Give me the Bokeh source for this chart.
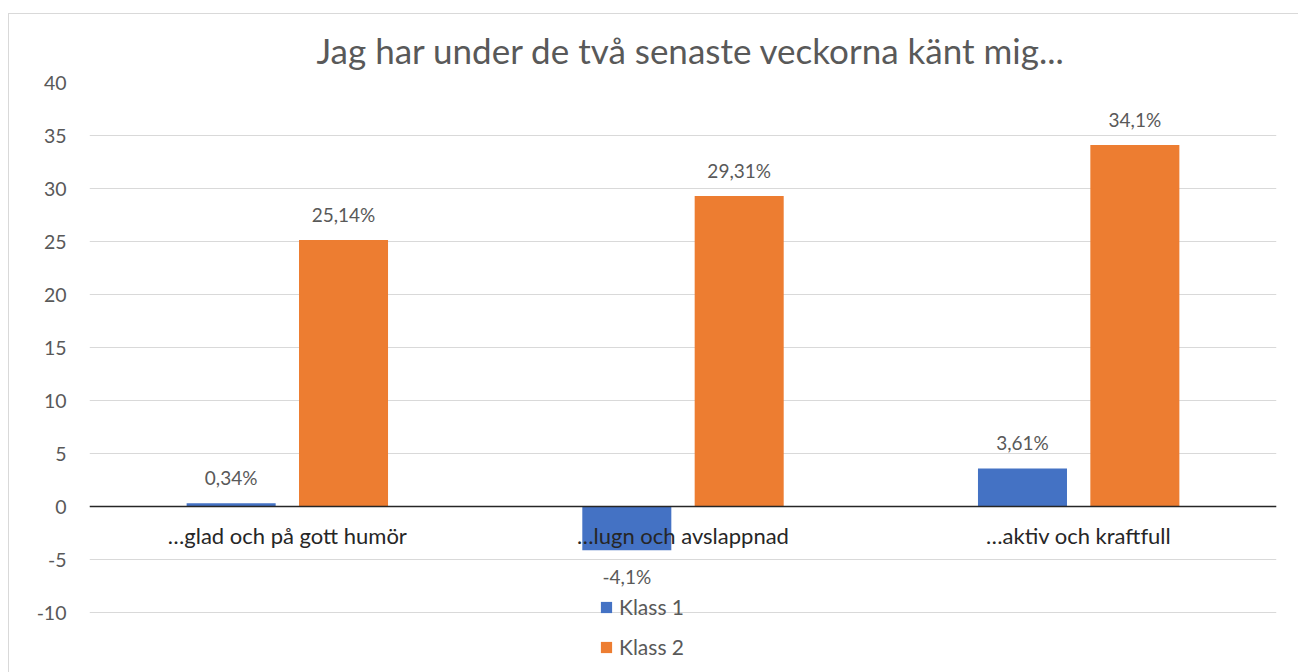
from bokeh.plotting import figure
from bokeh.models import (ColumnDataSource, FactorRange, Range1d, FixedTicker,
                          Legend, LegendItem, LabelSet, Spacer)
from bokeh.transform import dodge
from bokeh.core.properties import value
from bokeh.layouts import column, row
from bokeh.embed import file_html
from bokeh.resources import INLINE

categories = ["…glad och på gott humör", "…lugn och avslappnad", "…aktiv och kraftfull"]
klass1 = [0.34, -4.1, 3.61]
klass2 = [25.14, 29.31, 34.1]
klass1_labels = ["0,34%", "-4,1%", "3,61%"]
klass2_labels = ["25,14%", "29,31%", "34,1%"]
y_ticks = [-10, -5, 0, 5, 10, 15, 20, 25, 30, 35, 40]

FONT = "Lato"
BLUE = "#4472C4"
ORANGE = "#ED7D31"
GREY = "#595959"

src = ColumnDataSource(dict(
    cat=categories, k1=klass1, k2=klass2,
    l1=klass1_labels, l2=klass2_labels,
    y1=klass1, y2=klass2,
    off1=[-38 if v < 0 else 14 for v in klass1],
))

p = figure(width=1290, height=659, x_range=FactorRange(*categories, range_padding=0),
           y_range=Range1d(-15.72, 40), output_backend="svg", toolbar_location=None,
           min_border_left=80, min_border_right=23, min_border_top=67, min_border_bottom=0,
           title="Jag har under de två senaste veckorna känt mig...")
p.styles = {"border-left": "1px solid #d9d9d9", "border-top": "1px solid #d9d9d9"}

p.title.align = "left"
p.title.text_font = FONT
p.title.text_font_size = "35px"
p.title.text_font_style = "normal"
p.title.text_color = GREY
p.title.standoff = 24
p.title.offset = 227

r1 = p.vbar(x=dodge("cat", -0.142, range=p.x_range), top="k1", width=0.225,
            source=src, color=BLUE, line_color=None)
r2 = p.vbar(x=dodge("cat", 0.142, range=p.x_range), top="k2", width=0.225,
            source=src, color=ORANGE, line_color=None)

lab1 = LabelSet(x=dodge("cat", -0.142, range=p.x_range), y="y1", text="l1", source=src,
                text_align="center", text_baseline="bottom", y_offset="off1",
                text_font=value(FONT), text_font_size="19px", text_color=GREY)
lab2 = LabelSet(x=dodge("cat", 0.142, range=p.x_range), y="y2", text="l2", source=src,
                text_align="center", text_baseline="bottom", y_offset=14,
                text_font=value(FONT), text_font_size="19px", text_color=GREY)
p.add_layout(lab1)
p.add_layout(lab2)

p.yaxis.ticker = FixedTicker(ticks=y_ticks)
p.yaxis.major_label_overrides = {t: str(t) for t in y_ticks}
p.yaxis.axis_line_color = None
p.yaxis.major_tick_line_color = None
p.yaxis.minor_tick_line_color = None
p.yaxis.major_label_standoff = 17
p.yaxis.major_label_text_font = FONT
p.yaxis.major_label_text_font_size = "19.5px"
p.yaxis.major_label_text_color = GREY

p.xaxis.fixed_location = 0
p.xaxis.axis_line_color = "#262626"
p.xaxis.axis_line_width = 1.5
p.xaxis.major_tick_line_color = None
p.xaxis.minor_tick_line_color = None
p.xaxis.major_label_standoff = 9
p.xaxis.major_label_text_font = FONT
p.xaxis.major_label_text_font_size = "22px"
p.xaxis.major_label_text_color = "#262626"

p.xgrid.grid_line_color = None
p.ygrid.grid_line_color = "#d9d9d9"
p.ygrid.grid_line_width = 1
p.outline_line_color = None

legend = Legend(items=[LegendItem(label="Klass 1", renderers=[r1]),
                       LegendItem(label="Klass 2", renderers=[r2])],
                location=(510, 14), orientation="vertical",
                background_fill_alpha=0, border_line_color=None,
                glyph_width=14, glyph_height=14, label_standoff=6,
                spacing=15, label_text_font=FONT, label_text_font_size="21px",
                label_text_color=GREY, padding=0, margin=0)
p.add_layout(legend)

layout = row(Spacer(width=8, height=10),
             column(Spacer(height=13, width=10), p, spacing=0), spacing=0)
open("out.html", "w").write(file_html(layout, INLINE))
